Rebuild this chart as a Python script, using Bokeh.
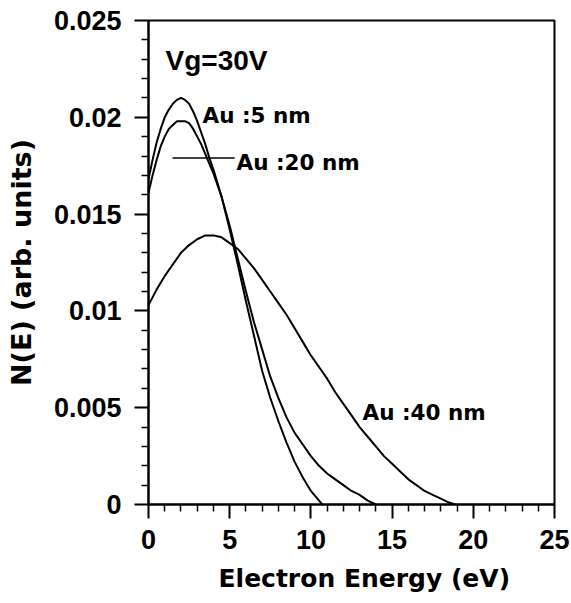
import numpy as np
from bokeh.plotting import figure
from bokeh.models import FixedTicker, CustomJSTickFormatter, Range1d, Title
from bokeh.core.properties import value
from bokeh.embed import file_html
from bokeh.resources import INLINE

# ---- data ----
au5_E = [0, 0.25, 0.5, 0.75, 1.0, 1.25, 1.5, 1.75, 2.0, 2.25, 2.5, 2.75, 3.0, 3.25, 3.5, 3.75,
         4.0, 4.5, 5.0, 5.5, 6.0, 6.5, 7.0, 7.5, 8.0, 8.5, 9.0, 9.5, 10.0, 10.4, 10.7]
au5_N = [0.0168, 0.0178, 0.0187, 0.0194, 0.0200, 0.0204, 0.0207, 0.0209, 0.0210, 0.0209, 0.0207,
         0.0203, 0.0198, 0.0192, 0.0186, 0.0179, 0.0173, 0.0159, 0.0142, 0.0124, 0.0105, 0.0087,
         0.0069, 0.0055, 0.0043, 0.0032, 0.0022, 0.0014, 0.0007, 0.0003, 0.0]

au20_E = [0, 0.25, 0.5, 0.75, 1.0, 1.25, 1.5, 1.75, 2.0, 2.25, 2.5, 2.75, 3.0, 3.25, 3.5, 3.75,
          4.0, 4.5, 5.0, 5.5, 6.0, 6.5, 7.0, 7.5, 8.0, 8.5, 9.0, 9.5, 10.0, 10.5, 11.0, 11.5,
          12.0, 12.5, 13.0, 13.5, 14.0]
au20_N = [0.0161, 0.0170, 0.0178, 0.0185, 0.0190, 0.0194, 0.0196, 0.0198, 0.0198, 0.0198, 0.0197,
          0.0194, 0.0190, 0.0186, 0.0181, 0.0176, 0.0171, 0.0159, 0.0144, 0.0127, 0.0110, 0.0094,
          0.0080, 0.0066, 0.0055, 0.0045, 0.0037, 0.0031, 0.0025, 0.0020, 0.0016, 0.0013,
          0.0010, 0.0007, 0.0005, 0.0002, 0.0]

au40_E = [0, 0.5, 1.0, 1.5, 2.0, 2.5, 3.0, 3.5, 4.0, 4.5, 5.0, 5.5, 6.0, 6.5, 7.0, 7.5, 8.0, 8.5,
          9.0, 9.5, 10.0, 10.5, 11.0, 11.5, 12.0, 12.5, 13.0, 13.5, 14.0, 14.5, 15.0, 15.5, 16.0,
          16.5, 17.0, 17.5, 18.0, 18.5, 18.9]
au40_N = [0.0103, 0.0111, 0.0118, 0.0124, 0.0130, 0.0134, 0.0137, 0.0139, 0.0139, 0.0138, 0.0135,
          0.0132, 0.0127, 0.0122, 0.0116, 0.0110, 0.0104, 0.0098, 0.0091, 0.0084, 0.0077, 0.0071,
          0.0065, 0.0058, 0.0052, 0.0046, 0.0040, 0.0035, 0.0030, 0.0025, 0.0021, 0.0017, 0.0013,
          0.0010, 0.0007, 0.0005, 0.0003, 0.0001, 0.0]

x_ticks = [0, 5, 10, 15, 20, 25]
x_tick_labels = ["0", "5", "10", "15", "20", "25"]
y_ticks = [0, 0.005, 0.01, 0.015, 0.02, 0.025]
y_tick_labels = ["0", "0.005", "0.01", "0.015", "0.02", "0.025"]

curve_labels = ["Au :5 nm", "Au :20 nm", "Au :40 nm"]
curve_label_x = [3.33, 5.42, 13.18]
curve_label_y = [0.0201, 0.01767, 0.00475]
title_text = "Vg=30V"
x_label = "Electron Energy (eV)"
y_label = "N(E) (arb. units)"

x_minor = [v for v in range(0, 26) if v % 5]
y_minor = [round(i * 0.001, 3) for i in range(0, 26) if i % 5]

p = figure(frame_width=406, frame_height=484,
           min_border_left=148, min_border_right=17, min_border_top=20, min_border_bottom=40,
           x_range=Range1d(0, 25), y_range=Range1d(0, 0.025),
           output_backend="svg", toolbar_location=None)
p.background_fill_color = "white"
p.border_fill_color = "white"
p.xgrid.visible = False
p.ygrid.visible = False
p.outline_line_color = "black"
p.outline_line_width = 2
p.outline_line_alpha = 1.0

def fmt(ticks, labels):
    return CustomJSTickFormatter(args=dict(tk=ticks, lb=labels), code="""
        for (let i = 0; i < tk.length; i++) { if (Math.abs(tk[i] - tick) < 1e-9) return lb[i]; }
        return "";
    """)

p.xaxis.ticker = FixedTicker(ticks=x_ticks, minor_ticks=x_minor)
p.yaxis.ticker = FixedTicker(ticks=y_ticks, minor_ticks=y_minor)
p.xaxis.formatter = fmt(x_ticks, x_tick_labels)
p.yaxis.formatter = fmt(y_ticks, y_tick_labels)

for ax in (p.xaxis[0], p.yaxis[0]):
    ax.axis_line_width = 2
    ax.axis_line_color = "black"
    ax.major_tick_line_width = 2
    ax.minor_tick_line_width = 1.5
    ax.major_tick_line_color = "black"
    ax.minor_tick_line_color = "black"
    ax.major_tick_in = 0
    ax.minor_tick_in = 0
    ax.major_tick_out = 14
    ax.minor_tick_out = 7
    ax.major_label_text_font = "Liberation Sans"
    ax.major_label_text_font_style = "bold"
    ax.major_label_text_font_size = "27px"
    ax.major_label_text_color = "black"
    ax.axis_label_text_font = "DejaVu Sans"
    ax.axis_label_text_font_style = "bold"
    ax.axis_label_text_color = "black"

p.yaxis.axis_label = y_label
p.yaxis.axis_label_text_font_size = "27px"
p.xaxis.major_label_standoff = 11
p.yaxis.major_label_standoff = 13
p.yaxis.axis_label_standoff = 14

# x-axis title, set slightly right of centre as in the reference
p.add_layout(Title(text=x_label, align="left", offset=70, standoff=20,
                   text_font="DejaVu Sans", text_font_style="bold", text_font_size="25px",
                   text_color="black"), "below")

for E, N in ((au5_E, au5_N), (au20_E, au20_N), (au40_E, au40_N)):
    p.line(E, N, line_color="black", line_width=2)

# leader line for the Au :20 nm label
p.line([1.48, 5.3], [0.0179, 0.0179], line_color="black", line_width=1.5)

p.text(x=curve_label_x, y=curve_label_y, text=curve_labels,
       text_font=value("DejaVu Sans"), text_font_style="bold", text_font_size="21.5px",
       text_color="black", text_align="left", text_baseline="alphabetic")
p.text(x=[1.05], y=[0.02293], text=[title_text],
       text_font=value("Liberation Sans"), text_font_style="bold", text_font_size="28px",
       text_color="black", text_align="left", text_baseline="alphabetic")

open("out.html", "w").write(file_html(p, INLINE))
